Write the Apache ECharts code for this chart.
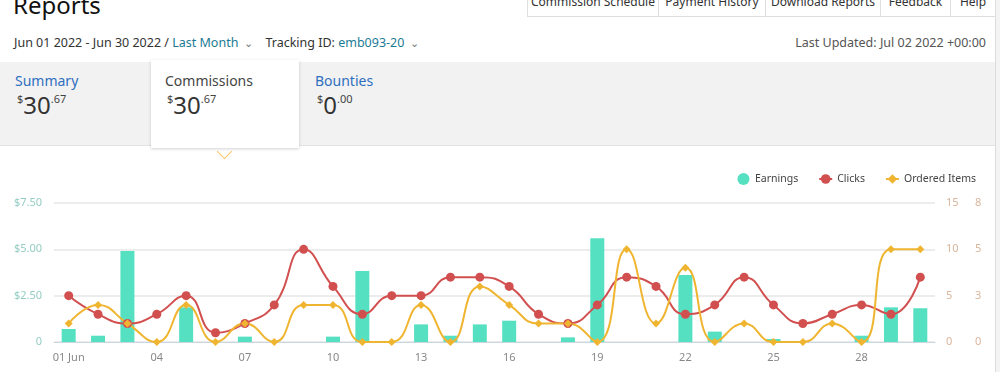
<!DOCTYPE html>
<html>
<head>
<meta charset="utf-8">
<script src="https://cdn.jsdelivr.net/npm/echarts@6/dist/echarts.min.js"></script>
<style>
  html, body { margin: 0; padding: 0; }
  body { width: 1000px; height: 372px; overflow: hidden; position: relative; background: #fff;
         font-family: "Noto Sans", "Open Sans", sans-serif; color: #333; }
  .abs { position: absolute; white-space: nowrap; }
  #rightstrip { left: 995px; top: 0; width: 5px; height: 372px; background: #f4f4f4; border-left: 1px solid #dcdcdc; }
  #title { left: 13px; top: -12px; font-size: 24px; color: #111; }
  #tabs { left: 527px; top: -12px; height: 27px; display: flex; }
  #tabs div { border: 1px solid #dedede; border-right: none; font-size: 12px; color: #333; padding: 4px 0 0 0; text-align: center; height: 23px; box-sizing: content-box; }
  #tabs div:last-child { border-right: 1px solid #dedede; }
  #row { left: 14px; top: 34px; font-size: 12.5px; color: #333; }
  .lnk { color: #1b7b95; }
  .car { color: #777; font-size: 11px; margin: 0 12px 0 6px; }
  #upd { right: 14px; top: 34px; font-size: 12.5px; color: #555; }
  #band { left: 0; top: 62px; width: 995px; height: 83px; background: #f2f2f2; border-bottom: 1px solid #e3e3e3; }
  #card { left: 151px; top: 60px; width: 148px; height: 88px; background: #fff; box-shadow: 0 1px 3px rgba(0,0,0,0.18); }
  .tabl { font-size: 14px; }
  .blue { color: #2f6fbf; }
  .amt { font-size: 24px; color: #333; }
  .amt sup { font-size: 11px; color: #444; vertical-align: 11px; }
  #chev { left: 219px; top: 146px; width: 10px; height: 10px; border-right: 1.5px solid #f8c66a; border-bottom: 1.5px solid #f8c66a; transform: rotate(45deg); }
  #chart { position: absolute; left: 0; top: 148px; width: 1000px; height: 224px; }
</style>
</head>
<body>
<div id="rightstrip" class="abs"></div>
<div id="title" class="abs">Reports</div>
<div id="tabs" class="abs">
  <div style="width:130px">Commission Schedule</div>
  <div style="width:106px">Payment History</div>
  <div style="width:114px">Download Reports</div>
  <div style="width:69px">Feedback</div>
  <div style="width:44px">Help</div>
</div>
<div id="row" class="abs">Jun 01 2022 - Jun 30 2022 / <span class="lnk">Last Month</span><span class="car">&#8964;</span>Tracking ID: <span class="lnk">emb093-20</span><span class="car">&#8964;</span></div>
<div id="upd" class="abs">Last Updated: Jul 02 2022 +00:00</div>
<div id="band" class="abs"></div>
<div id="card" class="abs"></div>
<div class="abs tabl blue" style="left:15px;top:71px">Summary</div>
<div class="abs amt" style="left:17px;top:88px"><sup>$</sup>30<sup>.67</sup></div>
<div class="abs tabl" style="left:165px;top:71px;color:#444">Commissions</div>
<div class="abs amt" style="left:167px;top:88px"><sup>$</sup>30<sup>.67</sup></div>
<div class="abs tabl blue" style="left:315px;top:71px">Bounties</div>
<div class="abs amt" style="left:317px;top:88px"><sup>$</sup>0<sup>.00</sup></div>
<div id="chev" class="abs"></div>
<div id="chart"></div>
<script>
const days = ['01 Jun','02','03','04','05','06','07','08','09','10','11','12','13','14','15','16','17','18','19','20','21','22','23','24','25','26','27','28','29','30'];
const earnings = [0.70,0.34,4.91,0,1.87,0,0.29,0,0,0.29,3.83,0,0.95,0.34,0.95,1.15,0,0.25,5.60,0,0,3.62,0.56,0,0.16,0,0,0.34,1.87,1.82];
const clicks = [5,3,2,3,5,1,2,4,10,6,3,5,5,7,7,6,3,2,4,7,6,3,4,7,4,2,3,4,3,7];
const orderedItems = [1,2,1,0,2,0,1,0,2,2,0,0,2,0,3,2,1,1,0,5,1,4,0,1,0,0,1,0,5,5];
const legendNames = ['Earnings','Clicks','Ordered Items'];

const chart = echarts.init(document.getElementById('chart'), null, {renderer: 'canvas'});
const font = '"Noto Sans", "Open Sans", sans-serif';
chart.setOption({
  animation: false,
  textStyle: { fontFamily: font },
  legend: {
    data: [{name: legendNames[0], icon: 'circle'}, legendNames[1], legendNames[2]],
    right: 19, top: 20, itemGap: 20, itemWidth: 13, itemHeight: 12,
    textStyle: { color: '#444', fontSize: 10.5, fontFamily: font }
  },
  grid: { left: 54, right: 65, top: 55, bottom: 30 },
  xAxis: {
    type: 'category', data: days,
    axisTick: { show: false },
    axisLine: { lineStyle: { color: '#c9d7e2' } },
    axisLabel: { interval: 2, color: '#888', fontSize: 11, margin: 10 }
  },
  yAxis: [
    { type: 'value', min: 0, max: 7.5, interval: 2.5, position: 'left',
      axisLabel: { color: '#94cdc3', fontSize: 11, margin: 12,
        formatter: v => v === 0 ? '0' : '$' + v.toFixed(2) },
      splitLine: { lineStyle: { color: '#e6e6e6', width: 1.5 } },
      axisLine: { show: false }, axisTick: { show: false } },
    { type: 'value', min: 0, max: 15, interval: 5, position: 'right',
      axisLabel: { color: '#d9b59b', fontSize: 11, margin: 11 },
      splitLine: { show: false }, axisLine: { show: false }, axisTick: { show: false } },
    { type: 'value', min: 0, max: 7.5, interval: 2.5, position: 'right', offset: 29,
      axisLabel: { color: '#d9b59b', fontSize: 11, margin: 11, formatter: v => String(Math.round(v)) },
      splitLine: { show: false }, axisLine: { show: false }, axisTick: { show: false } }
  ],
  series: [
    { name: legendNames[0], type: 'bar', data: earnings, yAxisIndex: 0, barWidth: 14,
      itemStyle: { color: '#56e0c2' } },
    { name: legendNames[1], type: 'line', data: clicks, yAxisIndex: 1, smooth: true,
      symbol: 'circle', symbolSize: 9,
      itemStyle: { color: '#d24f4f' }, lineStyle: { width: 2, color: '#d24f4f' } },
    { name: legendNames[2], type: 'line', data: orderedItems, yAxisIndex: 2, smooth: true,
      symbol: 'diamond', symbolSize: 8,
      itemStyle: { color: '#f0b530' }, lineStyle: { width: 2, color: '#f0b530' } }
  ]
});
</script>
</body>
</html>
